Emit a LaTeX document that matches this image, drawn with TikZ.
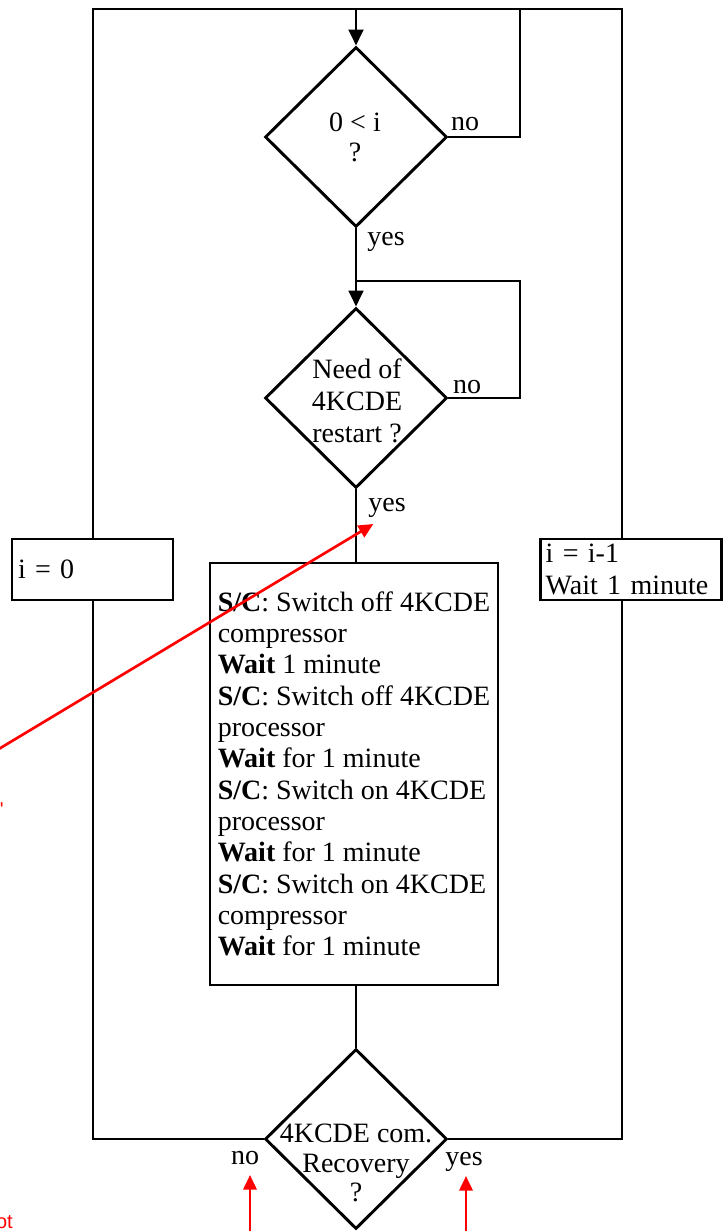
\documentclass[tikz,border=0pt]{standalone}
\usepackage{fontspec}
\setmainfont{Liberation Serif}
\newfontfamily\redfont{Liberation Sans}
\usetikzlibrary{arrows.meta,shapes.geometric}
\begin{document}
\begin{tikzpicture}[x=0.75pt,y=-0.75pt,
  conn/.style={line width=2.2pt, black},
  arr/.style={conn, -{Triangle[width=11pt,length=12pt]}},
  decision/.style={diamond, draw, line width=2.2pt, minimum width=136.5pt, minimum height=135pt, inner sep=0pt},
  procbox/.style={rectangle, draw, line width=2.2pt, align=left, inner ysep=0pt, font=\fontsize{21}{23.5}\selectfont},
  dtxt/.style={inner sep=0pt, align=center},
  lbl/.style={inner sep=0pt, anchor=base, font=\fontsize{21}{23.5}\selectfont},
  redarr/.style={red, line width=2pt, -{Triangle[width=10pt,length=11pt]}},
  redtxt/.style={red, font=\redfont\fontsize{15}{18}\selectfont, inner sep=0pt},
]
\useasboundingbox (0,0) rectangle (725,1231);

% coordinates of the frame
\coordinate (top) at (356,9);
\coordinate (tl) at (93,9);
\coordinate (tr) at (622,9);
\coordinate (n1) at (520,9);
\coordinate (n2) at (520,281);
\coordinate (j2) at (356,281);

% decisions
\node[decision] (d1) at (356,137) {};
\node[dtxt, font=\fontsize{21}{22.5}\selectfont] (d1t) at (355,137.5) {0 < i\\?};
\node[decision] (d2) at (356,398) {};
\node[dtxt, font=\fontsize{21}{24}\selectfont] (d2t) at (357,400.5) {Need of\\4KCDE\\restart ?};
\node[decision] (d3) at (356,1139) {};
\node[dtxt, font=\fontsize{21}{22}\selectfont] (d3t) at (356,1163) {4KCDE com.\\Recovery\\?};

% boxes
\node[procbox, minimum width=216pt, minimum height=316.5pt, inner xsep=0pt] (act) at (354,774) {%
\textbf{S/C}: Switch off 4KCDE\\
compressor\\
\textbf{Wait} 1 minute\\
\textbf{S/C}: Switch off 4KCDE\\
processor\\
\textbf{Wait} for 1 minute\\
\textbf{S/C}: Switch on 4KCDE\\
processor\\
\textbf{Wait} for 1 minute\\
\textbf{S/C}: Switch on 4KCDE\\
compressor\\
\textbf{Wait} for 1 minute};
\node[procbox, text width=111.75pt, inner xsep=4.5pt, minimum height=45.75pt] (i0) at (92.5,569.5) {i = 0};
\node[procbox, text width=128pt, inner xsep=3.75pt, minimum height=45.75pt] (dec) at (631,569.5) {i = i-1\\Wait 1 minute};

% connectors
\draw[arr] (top) -- (d1.north);
\draw[conn] (d1.east) -| (n1);
\draw[arr] (d1.south) -- (d2.north);
\draw[conn] (d2.east) -| (n2) -- (j2);
\draw[conn] (d2.south) -- (d2.south |- act.north);
\draw[conn] (d3.north |- act.south) -- (d3.north);
\draw[conn] (d3.west) -| (tl |- i0.south);
\draw[conn] (tl |- i0.north) -- (tl) -- (tr) -- (tr |- dec.north);
\draw[conn] (tr |- dec.south) |- (d3.east);

% labels
\node[lbl] (no1) at (465,130) {no};
\node[lbl] (yes1) at (386,245) {yes};
\node[lbl] (no2) at (467,393) {no};
\node[lbl] (yes2) at (387,511) {yes};
\node[lbl] (no3) at (245,1164) {no};
\node[lbl] (yes3) at (464,1165) {yes};

% red annotations
\coordinate (rs) at (-30,766.3);
\coordinate (re) at (373.3,524);
\draw[redarr] (rs) -- (re);
\coordinate (rb1) at (250,1240);
\coordinate (rt1) at (250,1175);
\draw[redarr] (rb1) -- (rt1);
\coordinate (rb2) at (466,1240);
\coordinate (rt2) at (466,1176);
\draw[redarr] (rb2) -- (rt2);
\node[redtxt, anchor=base east] (rtxt1) at (13,1228) {ot};
\node[redtxt, anchor=north east] (rtxt2) at (4,802) {'};
\end{tikzpicture}
\end{document}
